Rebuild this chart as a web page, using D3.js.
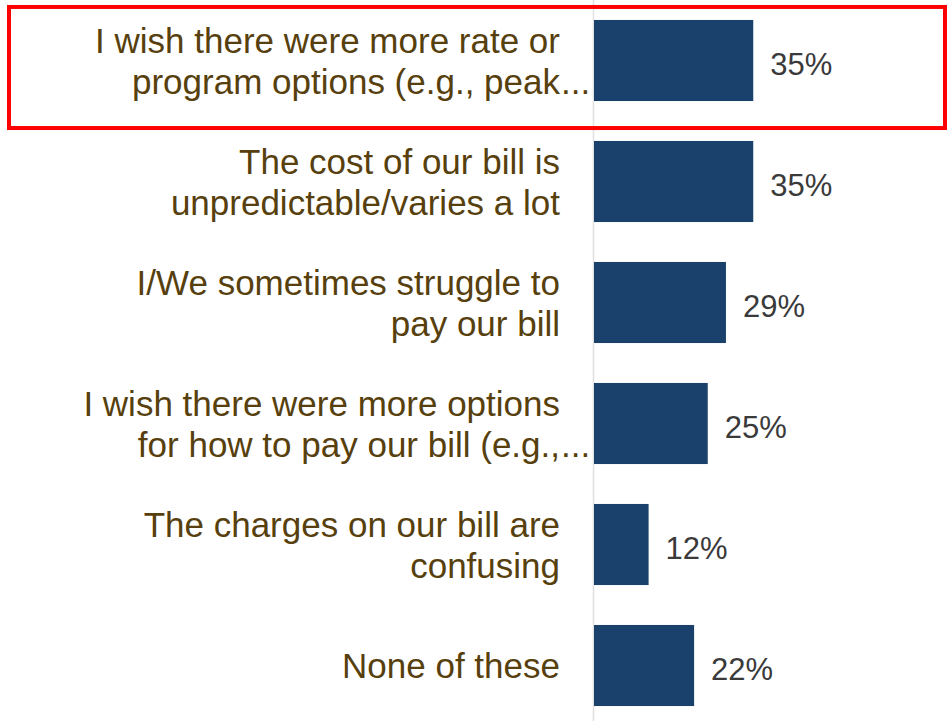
<!DOCTYPE html>
<html>
<head>
<meta charset="utf-8">
<script src="https://cdn.jsdelivr.net/npm/d3@7"></script>
<style>
  html, body { margin: 0; padding: 0; background: #fff; }
  svg { display: block; }
  .cat { font-family: "Liberation Sans", Arial, sans-serif; font-size: 35px; fill: #573f0e; }
  .val { font-family: "Liberation Sans", Arial, sans-serif; font-size: 31px; fill: #3a3a3a; }
</style>
</head>
<body>
<div id="chart"></div>
<script>
// ── Data ──────────────────────────────────────────────────────────────────
const categories = [
  ["I wish there were more rate or", "program options (e.g., peak"],
  ["The cost of our bill is", "unpredictable/varies a lot"],
  ["I/We sometimes struggle to", "pay our bill"],
  ["I wish there were more options", "for how to pay our bill (e.g.,"],
  ["The charges on our bill are", "confusing"],
  ["None of these"]
];
const truncated = [true, false, false, true, false, false];
const values = [35, 35, 29, 25, 12, 22];
const highlightIndex = 0;

// ── Layout ────────────────────────────────────────────────────────────────
const W = 948, H = 721;
const axisX = 594;
const labelRight = 560;
const lineH = 41;

const svg = d3.select("#chart").append("svg")
  .attr("width", W).attr("height", H);

const idx = d3.range(categories.length);

const y = d3.scaleBand()
  .domain(idx)
  .range([0, 726])
  .paddingInner(0.33)
  .paddingOuter(0.165);

const x = d3.scaleLinear()
  .domain([0, 100])
  .range([axisX, axisX + 455]);

// axis line
svg.append("line")
  .attr("x1", axisX - 0.5).attr("x2", axisX - 0.5)
  .attr("y1", 0).attr("y2", H)
  .attr("stroke", "#e0e0e0").attr("stroke-width", 1.5);

// bars
svg.selectAll("rect.bar")
  .data(idx)
  .join("rect")
  .attr("class", "bar")
  .attr("x", x(0))
  .attr("y", i => y(i))
  .attr("width", i => x(values[i]) - x(0))
  .attr("height", y.bandwidth())
  .attr("fill", "#1a416b");

// value labels
svg.selectAll("text.val")
  .data(idx)
  .join("text")
  .attr("class", "val")
  .attr("x", i => x(values[i]) + 17)
  .attr("y", i => y(i) + y.bandwidth() / 2 + 14)
  .text(i => values[i] + "%");

// category labels
idx.forEach(i => {
  const lines = categories[i];
  const cy = y(i) + y.bandwidth() / 2;
  lines.forEach((ln, j) => {
    const by = cy + 12.5 + (j - (lines.length - 1) / 2) * lineH;
    svg.append("text")
      .attr("class", "cat")
      .attr("x", labelRight)
      .attr("y", by)
      .attr("text-anchor", "end")
      .text(ln);
    if (truncated[i] && j === lines.length - 1) {
      svg.append("text")
        .attr("class", "cat")
        .attr("x", labelRight + 1)
        .attr("y", by)
        .text("...");
    }
  });
});

// highlight box
const hy = y(highlightIndex);
svg.append("rect")
  .attr("x", 9).attr("y", hy - 13)
  .attr("width", 936).attr("height", y.bandwidth() + 26 + 14)
  .attr("fill", "none")
  .attr("stroke", "#ff0000")
  .attr("stroke-width", 4);
</script>
</body>
</html>
